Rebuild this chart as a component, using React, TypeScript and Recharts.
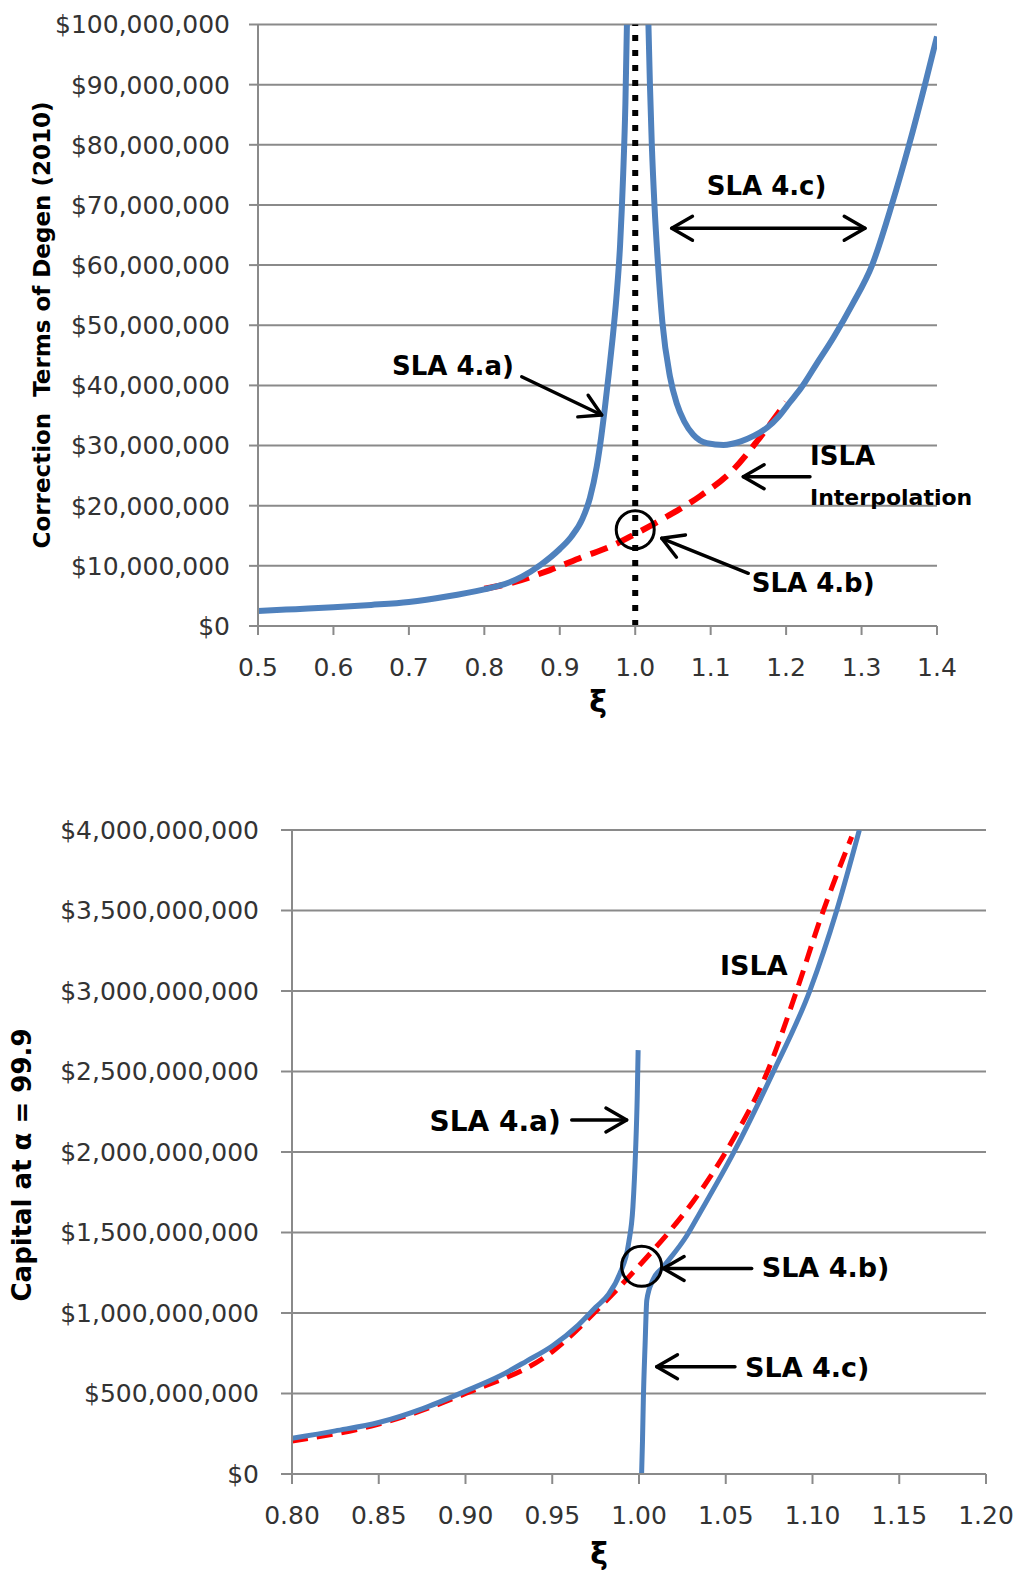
import React from 'react';
import { LineChart, Line, XAxis, YAxis, CartesianGrid, ReferenceLine, ReferenceDot } from 'recharts';

// ---------- Top chart data (x = ξ, value in $ millions) ----------
const topXTicks = [0.5, 0.6, 0.7, 0.8, 0.9, 1.0, 1.1, 1.2, 1.3, 1.4];
const topYTicks = [0, 10, 20, 30, 40, 50, 60, 70, 80, 90, 100];

const topSla4a: [number, number][] = [
  [0.5, 2.5], [0.55, 2.8], [0.6, 3.1], [0.65, 3.5], [0.7, 4.0], [0.75, 4.9],
  [0.8, 6.1], [0.82, 6.7], [0.85, 8.2], [0.875, 10.2], [0.9, 12.8], [0.915, 14.8],
  [0.93, 17.8], [0.94, 21.3], [0.949, 26.5], [0.955, 31.5], [0.96, 36.5],
  [0.965, 42.0], [0.97, 47.8], [0.975, 54.5], [0.98, 63.5], [0.984, 75.0],
  [0.987, 87.0], [0.989, 100.0],
];

const topSla4c: [number, number][] = [
  [1.0175, 100], [1.0195, 90], [1.022, 80], [1.0255, 70], [1.03, 60.5], [1.036, 50.5],
  [1.046, 41.5], [1.055, 37.0], [1.065, 34.0], [1.077, 31.8], [1.095, 30.4], [1.117, 30.1],
  [1.14, 30.7], [1.157, 31.6], [1.175, 33.0], [1.19, 34.8], [1.205, 37.2],
  [1.22, 39.6], [1.24, 43.5], [1.263, 48.0], [1.288, 53.5], [1.314, 60.0],
  [1.34, 70.0], [1.363, 80.0], [1.384, 90.0], [1.4, 98.0],
];

const topIsla: [number, number][] = [
  [0.8, 6.2], [0.834, 7.1], [0.887, 9.3], [0.931, 11.5], [0.967, 13.2], [1.0, 15.3],
  [1.042, 18.2], [1.086, 21.6], [1.13, 26.0], [1.162, 30.8], [1.2, 37.2],
];

// ---------- Bottom chart data (x = ξ, value in $ millions) ----------
const botXTicks = [0.8, 0.85, 0.9, 0.95, 1.0, 1.05, 1.1, 1.15, 1.2];
const botYTicks = [0, 500, 1000, 1500, 2000, 2500, 3000, 3500, 4000];

const botSla4a: [number, number][] = [
  [0.8, 222], [0.825, 268], [0.85, 320], [0.875, 405], [0.9, 515], [0.92, 610],
  [0.935, 700], [0.95, 795], [0.965, 925], [0.975, 1035], [0.982, 1110],
  [0.989, 1246], [0.994, 1432], [0.9965, 1660], [0.998, 2000], [0.999, 2350], [0.9995, 2633],
];

const botSla4c: [number, number][] = [
  [1.0015, 0], [1.002, 200], [1.0025, 460], [1.0035, 800], [1.0045, 1080],
  [1.008, 1205], [1.014, 1287], [1.0275, 1480], [1.035, 1620], [1.054, 1985],
  [1.077, 2488], [1.0986, 3006], [1.114, 3502], [1.127, 4000],
];

const botIsla: [number, number][] = [
  [0.8, 205], [0.85, 310], [0.9, 500], [0.95, 760], [0.9777, 1039], [1.0006, 1300],
  [1.0198, 1536], [1.031, 1690], [1.054, 2074], [1.0736, 2488], [1.091, 3006],
  [1.1043, 3440], [1.1226, 3958],
];

const toPts = (arr: [number, number][]) => arr.map(([x, v]) => ({ x, y: v * 1e6 }));

const BLUE = '#4f81bd';
const RED = '#ff0000';
const GRID = '#8a8a8a';
const FONT = 'DejaVu Sans';

const money = (v: number) => '$' + Math.round(v).toLocaleString('en-US');

function Arrow({ x1, y1, x2, y2, both = false, len = 24, ang = 30 }: any) {
  const heads: string[] = [];
  const mk = (tx: number, ty: number, fx: number, fy: number) => {
    const a = Math.atan2(fy - ty, fx - tx);
    const r = (ang * Math.PI) / 180;
    const ax = tx + len * Math.cos(a + r), ay = ty + len * Math.sin(a + r);
    const bx = tx + len * Math.cos(a - r), by = ty + len * Math.sin(a - r);
    heads.push(`M${ax},${ay} L${tx},${ty} L${bx},${by}`);
  };
  mk(x2, y2, x1, y1);
  if (both) mk(x1, y1, x2, y2);
  return (
    <g stroke="#000" strokeWidth={3.4} fill="none" strokeLinecap="round" strokeLinejoin="round">
      <line x1={x1} y1={y1} x2={x2} y2={y2} />
      {heads.map((d, i) => <path key={i} d={d} />)}
    </g>
  );
}

function Label({ x, yc, size, children, anchor = 'start' }: any) {
  return (
    <text x={x} y={yc + size * 0.36} fontSize={size} fontFamily={FONT} fontWeight="bold" fill="#000" textAnchor={anchor}>
      {children}
    </text>
  );
}

export default function App() {
  const tickStyle = { fill: '#333', fontSize: 25, fontFamily: FONT };
  const axisLine = { stroke: GRID, strokeWidth: 2 };
  return (
    <div style={{ position: 'absolute', left: 0, top: 0, width: 1032, height: 1585, background: '#fff' }}>
      <div style={{ position: 'absolute', left: 0, top: 0 }}>
        <LineChart width={1032} height={720} margin={{ top: 24.5, right: 95, left: 0, bottom: 0 }}>
          <CartesianGrid horizontal vertical={false} stroke={GRID} strokeWidth={2} />
          <XAxis type="number" dataKey="x" domain={[0.5, 1.4]} ticks={topXTicks} allowDataOverflow
            tickFormatter={(v: number) => v.toFixed(1)} height={94} tickSize={9} tickMargin={23}
            axisLine={axisLine} tickLine={axisLine} tick={tickStyle} interval={0} />
          <YAxis type="number" domain={[0, 100e6]} ticks={topYTicks.map(v => v * 1e6)} allowDataOverflow
            tickFormatter={money} width={258} tickSize={9} tickMargin={19}
            axisLine={axisLine} tickLine={axisLine} tick={tickStyle} interval={0} />
          <Line data={toPts(topIsla)} dataKey="y" type="monotone" stroke={RED} strokeWidth={6}
            strokeDasharray="18 10" dot={false} isAnimationActive={false} />
          <Line data={toPts(topSla4a)} dataKey="y" type="monotone" stroke={BLUE} strokeWidth={6}
            dot={false} isAnimationActive={false} />
          <Line data={toPts(topSla4c)} dataKey="y" type="monotone" stroke={BLUE} strokeWidth={6}
            dot={false} isAnimationActive={false} />
          <ReferenceLine x={1.0} stroke="#000" strokeWidth={6} strokeDasharray="6 9" />
          <ReferenceDot x={1.0} y={16e6} r={19} fill="none" stroke="#000" strokeWidth={3} />
        </LineChart>
      </div>
      <div style={{ position: 'absolute', left: 0, top: 760 }}>
        <LineChart width={1032} height={825} margin={{ top: 70, right: 46, left: 0, bottom: 0 }}>
          <CartesianGrid horizontal vertical={false} stroke={GRID} strokeWidth={2} />
          <XAxis type="number" dataKey="x" domain={[0.8, 1.2]} ticks={botXTicks} allowDataOverflow
            tickFormatter={(v: number) => v.toFixed(2)} height={111} tickSize={10} tickMargin={22}
            axisLine={axisLine} tickLine={axisLine} tick={tickStyle} interval={0} />
          <YAxis type="number" domain={[0, 4000e6]} ticks={botYTicks.map(v => v * 1e6)} allowDataOverflow
            tickFormatter={money} width={292} tickSize={11} tickMargin={22}
            axisLine={axisLine} tickLine={axisLine} tick={tickStyle} interval={0} />
          <Line data={toPts(botIsla)} dataKey="y" type="monotone" stroke={RED} strokeWidth={5}
            strokeDasharray="16 9" dot={false} isAnimationActive={false} />
          <Line data={toPts(botSla4a)} dataKey="y" type="monotone" stroke={BLUE} strokeWidth={5}
            dot={false} isAnimationActive={false} />
          <Line data={toPts(botSla4c)} dataKey="y" type="monotone" stroke={BLUE} strokeWidth={5}
            dot={false} isAnimationActive={false} />
          <ReferenceDot x={1.0015} y={1290e6} r={20} fill="none" stroke="#000" strokeWidth={3} />
        </LineChart>
      </div>
      <svg width={1032} height={1585} style={{ position: 'absolute', left: 0, top: 0, pointerEvents: 'none' }}>
        {/* axis titles */}
        <text transform="translate(42,325) rotate(-90)" textAnchor="middle" dominantBaseline="central"
          fontSize={23} fontFamily={FONT} fontWeight="bold" fill="#000" xmlSpace="preserve">Correction  Terms of Degen (2010)</text>
        <text x={598} y={712} textAnchor="middle" fontSize={30} fontFamily={FONT} fontWeight="bold" fill="#000">ξ</text>
        <text transform="translate(22,1165) rotate(-90)" textAnchor="middle" dominantBaseline="central"
          fontSize={26} fontFamily={FONT} fontWeight="bold" fill="#000">Capital at α = 99.9</text>
        <text x={599} y={1564} textAnchor="middle" fontSize={30} fontFamily={FONT} fontWeight="bold" fill="#000">ξ</text>

        {/* top annotations */}
        <Label x={392} yc={366} size={26}>SLA 4.a)</Label>
        <Arrow x1={521.7} y1={376.7} x2={601.7} y2={415} />
        <Label x={706.7} yc={186} size={26}>SLA 4.c)</Label>
        <Arrow x1={671.7} y1={228.3} x2={865} y2={228.3} both />
        <Label x={810} yc={456} size={26}>ISLA</Label>
        <Label x={810} yc={497.5} size={22}>Interpolation</Label>
        <Arrow x1={810} y1={476.7} x2={743.3} y2={476.7} />
        <Label x={751.7} yc={582.5} size={26}>SLA 4.b)</Label>
        <Arrow x1={748.3} y1={573.3} x2={661.7} y2={538.3} />

        {/* bottom annotations */}
        <Label x={720} yc={965} size={27}>ISLA</Label>
        <Label x={429.5} yc={1121} size={28}>SLA 4.a)</Label>
        <Arrow x1={571.7} y1={1120} x2={626.7} y2={1120} />
        <Label x={761.7} yc={1267.5} size={27}>SLA 4.b)</Label>
        <Arrow x1={751.7} y1={1268.5} x2={663.3} y2={1268.5} />
        <Label x={745} yc={1367.5} size={27}>SLA 4.c)</Label>
        <Arrow x1={735} y1={1366.7} x2={656.7} y2={1366.7} />
      </svg>
    </div>
  );
}
